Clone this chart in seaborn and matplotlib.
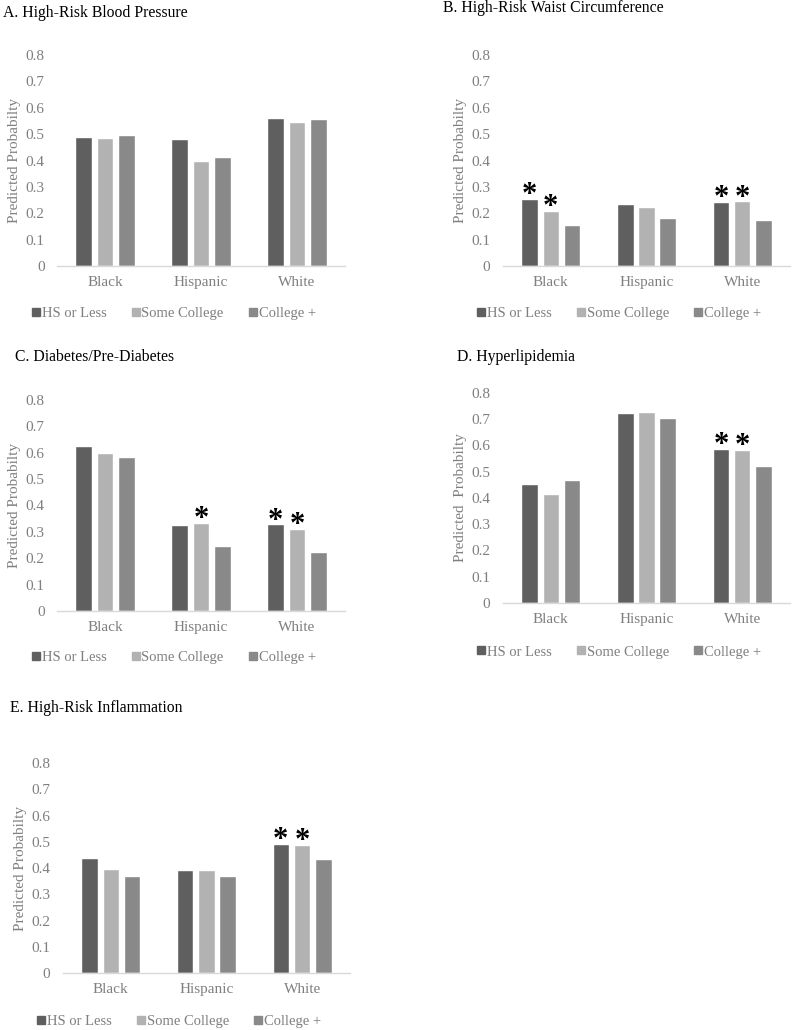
import numpy as np
import pandas as pd
import matplotlib
matplotlib.use("Agg")
import matplotlib.pyplot as plt
from matplotlib.lines import Line2D
import seaborn as sns

# Données
races = ["Black", "Hispanic", "White"]
education = ["HS or Less", "Some College", "College +"]

# une ligne par niveau d'éducation, une colonne par groupe
blood_pressure = [[0.491, 0.482, 0.563],
                  [0.485, 0.397, 0.547],
                  [0.497, 0.414, 0.557]]
waist = [[0.253, 0.235, 0.244],
         [0.209, 0.222, 0.245],
         [0.156, 0.183, 0.174]]
diabetes = [[0.625, 0.325, 0.328],
            [0.599, 0.333, 0.311],
            [0.584, 0.248, 0.223]]
lipids = [[0.452, 0.724, 0.587],
          [0.415, 0.728, 0.583],
          [0.470, 0.703, 0.522]]
inflammation = [[0.439, 0.391, 0.493],
                [0.396, 0.394, 0.488],
                [0.371, 0.371, 0.436]]

# barres significatives (groupe, éducation)
stars_b = [("Black", "HS or Less"), ("Black", "Some College"),
           ("White", "HS or Less"), ("White", "Some College")]
stars_c = [("Hispanic", "Some College"), ("White", "HS or Less"), ("White", "Some College")]
stars_d = [("White", "HS or Less"), ("White", "Some College")]
stars_e = [("White", "HS or Less"), ("White", "Some College")]

titles = ["A. High-Risk Blood Pressure", "B. High-Risk Waist Circumference",
          "C. Diabetes/Pre-Diabetes", "D. Hyperlipidemia", "E. High-Risk Inflammation"]
ylabels = ["Predicted Probabilty", "Predicted Probabilty", "Predicted Probabilty",
           "Predicted  Probabilty", "Predicted Probabilty"]

colors = ["#5f5f5f", "#b2b2b2", "#898989"]
gray_txt = "#7f7f7f"

sns.set_style("white")
plt.rcParams["font.family"] = ["Liberation Serif", "DejaVu Sans"]

fig = plt.figure(figsize=(7.93, 10.30), dpi=100)

# positions des axes (fraction de figure) et des titres
axes_pos = [[0.0719, 0.7417, 0.3632, 0.2049],
            [0.6343, 0.7417, 0.3619, 0.2049],
            [0.0719, 0.4068, 0.3632, 0.2049],
            [0.6343, 0.4146, 0.3619, 0.2039],
            [0.0794, 0.0553, 0.3619, 0.2039]]
title_pos = [(3, 13), (443, 8), (15, 357), (457, 357), (10, 708)]
legend_y = [-0.223, -0.223, -0.218, -0.233, -0.229]

panels = [blood_pressure, waist, diabetes, lipids, inflammation]
stars = [[], stars_b, stars_c, stars_d, stars_e]

for i, vals in enumerate(panels):
    rows = []
    for ei, edu in enumerate(education):
        for ri, race in enumerate(races):
            rows.append({"race": race, "edu": edu, "prob": vals[ei][ri]})
    df = pd.DataFrame(rows)

    ax = fig.add_axes(axes_pos[i])
    sns.barplot(data=df, x="race", y="prob", hue="edu", order=races, hue_order=education,
                palette=colors, width=0.667, gap=0.22, saturation=1, legend=False, ax=ax)
    ax.set_ylim(0, 0.8)
    ax.set_xlim(-0.5, 2.5)
    ax.set_yticks(np.arange(0, 0.81, 0.1))
    ax.set_yticklabels(["0"] + [f"{v:.1f}" for v in np.arange(0.1, 0.81, 0.1)])
    ax.tick_params(axis="y", length=0, pad=9, labelsize=11, labelcolor=gray_txt)
    ax.tick_params(axis="x", length=0, pad=7, labelsize=11, labelcolor=gray_txt)
    ax.set_xlabel("")
    ax.set_ylabel(ylabels[i], fontsize=11, color=gray_txt)
    ax.yaxis.set_label_coords(-0.126, 0.5)
    for s in ["top", "right", "left"]:
        ax.spines[s].set_visible(False)
    ax.spines["bottom"].set_color("#d9d9d9")
    ax.spines["bottom"].set_linewidth(1)

    # astérisques
    for race, edu in stars[i]:
        bar = ax.containers[education.index(edu)][races.index(race)]
        ax.annotate("*", (bar.get_x() + bar.get_width() / 2, bar.get_height()),
                    xytext=(0, -3), textcoords="offset points", ha="center", va="baseline",
                    fontsize=22, fontweight="bold", color="black")

    handles = [Line2D([], [], marker="s", linestyle="", markersize=6, color=c) for c in colors]
    ax.legend(handles, education, loc="center", bbox_to_anchor=(0.405, legend_y[i]), ncol=3,
              frameon=False, fontsize=10.5, labelcolor=gray_txt, handlelength=0.6,
              handletextpad=0.1, columnspacing=1.7)

    fig.text(title_pos[i][0] / 793, 1 - title_pos[i][1] / 1030, titles[i],
             ha="left", va="center", fontsize=11.3, color="black")

plt.savefig("out.png", dpi=100)
